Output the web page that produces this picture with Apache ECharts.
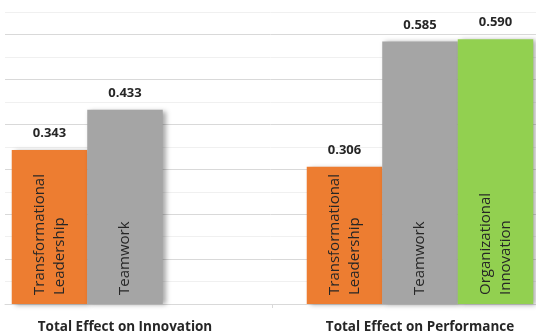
<!DOCTYPE html>
<html>
<head>
<meta charset="utf-8">
<script src="https://cdn.jsdelivr.net/npm/echarts@6/dist/echarts.min.js"></script>
<style>
html,body{margin:0;padding:0;background:#fff;}
#c{width:536px;height:334px;}
</style>
</head>
<body>
<div id="c"></div>
<script>
// Data
var categories = ['Total Effect on Innovation', 'Total Effect on Performance'];
var seriesNames = ['Transformational\nLeadership', 'Teamwork', 'Organizational\nInnovation'];
var transformationalLeadership = [0.343, 0.306];
var teamwork = [0.433, 0.585];
var organizationalInnovation = [null, 0.590];
var colors = ['#ED7D31', '#A5A5A5', '#92D050'];

var valuesList = [transformationalLeadership, teamwork, organizationalInnovation];
var FONT = '"Open Sans", "Noto Sans", sans-serif';

var series = [];
valuesList.forEach(function (vals, i) {
  var stackId = 's' + i;
  series.push({
    type: 'bar',
    name: seriesNames[i],
    stack: stackId,
    xAxisIndex: 0, yAxisIndex: 0,
    data: vals,
    barWidth: 75.5,
    barGap: '0%',
    itemStyle: {
      color: colors[i],
      shadowColor: 'rgba(0,0,0,0.35)',
      shadowBlur: 5,
      shadowOffsetX: 3,
      shadowOffsetY: 1
    },
    label: {
      show: true,
      position: 'insideBottom',
      rotate: 90,
      align: 'left',
      verticalAlign: 'middle',
      distance: 9,
      formatter: seriesNames[i],
      fontFamily: FONT,
      fontSize: 15,
      lineHeight: 20,
      color: '#262626'
    }
  });
  // zero-height cap used only to carry the value label above each bar
  series.push({
    type: 'bar',
    name: seriesNames[i] + ' value',
    stack: stackId,
    xAxisIndex: 0, yAxisIndex: 0,
    data: vals.map(function (v) { return v == null ? null : 0; }),
    barWidth: 75.5,
    barGap: '0%',
    itemStyle: { color: 'transparent' },
    label: {
      show: true,
      position: 'top',
      distance: 10,
      formatter: function (p) { return vals[p.dataIndex].toFixed(3); },
      fontFamily: FONT,
      fontWeight: 'bold',
      fontSize: 13,
      color: '#262626'
    }
  });
});

var chart = echarts.init(document.getElementById('c'), null, {renderer: 'canvas'});
chart.setOption({
  animation: false,
  backgroundColor: '#ffffff',
  grid: [
    {left: -22.5, right: -31.5, top: 12.3, bottom: 30, outerBoundsMode: 'none', containLabel: false},
    {left: 5, right: 0, top: 12.3, bottom: 30, outerBoundsMode: 'none', containLabel: false}
  ],
  xAxis: [
    {
      type: 'category', gridIndex: 0, data: categories,
      axisLine: {show: false},
      axisTick: {show: true, length: 4, lineStyle: {color: '#d9d9d9'}},
      axisLabel: {
        margin: 16, fontFamily: FONT, fontWeight: 'bold', fontSize: 13.5, color: '#262626'
      }
    },
    {
      type: 'value', gridIndex: 1, min: 0, max: 1,
      axisLine: {show: true, lineStyle: {color: '#d9d9d9', width: 1}},
      axisTick: {show: false}, axisLabel: {show: false}, splitLine: {show: false}
    }
  ],
  yAxis: [
    {
      type: 'value', gridIndex: 0, min: 0, max: 0.65, interval: 0.05,
      show: false, splitLine: {show: false}
    },
    {
      type: 'value', gridIndex: 1, min: 0, max: 0.65, interval: 0.05,
      axisLine: {show: false}, axisTick: {show: false}, axisLabel: {show: false},
      splitLine: {show: true, lineStyle: {color: ['#d9d9d9', '#f0f0f0'], width: 1}}
    }
  ],
  series: series
});
</script>
</body>
</html>
